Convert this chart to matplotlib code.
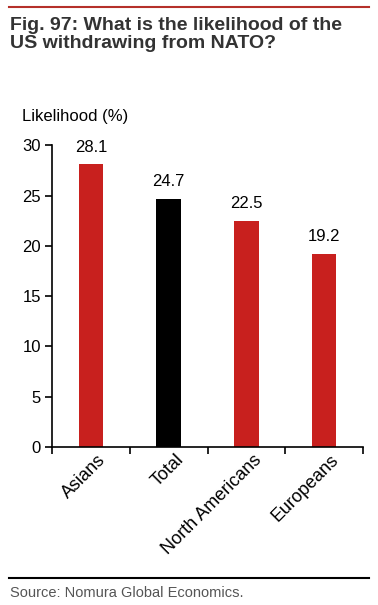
import matplotlib.pyplot as plt
import numpy as np

plt.rcParams['font.family'] = ['Liberation Sans', 'DejaVu Sans']

categories = ['Asians', 'Total', 'North Americans', 'Europeans']
values = [28.1, 24.7, 22.5, 19.2]
colors = ['#c8201e', '#000000', '#c8201e', '#c8201e']

fig = plt.figure(figsize=(3.78, 6.05), dpi=100)
ax = fig.add_axes([0.138, 0.261, 0.822, 0.499])

x = np.arange(len(categories))
bars = ax.bar(x, values, width=0.32, color=colors)
ax.bar_label(bars, labels=[f'{v:.1f}' for v in values], padding=7, fontsize=12)

ax.set_xlim(-0.5, len(categories) - 0.5)
ax.set_ylim(0, 30)
ax.set_yticks(range(0, 31, 5))
ax.tick_params(axis='y', direction='out', length=5, width=1.2, labelsize=12, pad=3)

ax.set_xticks(x + 0.08)
ax.set_xticklabels(categories, rotation=45, ha='right', va='top',
                   rotation_mode='anchor', fontsize=13)
ax.tick_params(axis='x', which='major', length=0, pad=3)
ax.set_xticks(np.arange(-0.5, len(categories)), minor=True)
ax.tick_params(axis='x', which='minor', direction='out', length=5, width=1.2)

for s in ['top', 'right']:
    ax.spines[s].set_visible(False)
ax.spines['left'].set_linewidth(1.2)
ax.spines['bottom'].set_linewidth(1.2)

fig.text(0.058, 0.80, 'Likelihood (%)', fontsize=12)

# header / footer
fig.add_artist(plt.Line2D([0.024, 0.976], [0.988, 0.988], color='#b5302a', lw=1.5))
fig.text(0.026, 0.972, 'Fig. 97: What is the likelihood of the\nUS withdrawing from NATO?',
         fontsize=14, fontweight='bold', color='#333333', va='top', linespacing=1.05)
fig.add_artist(plt.Line2D([0.024, 0.976], [0.045, 0.045], color='#000000', lw=1.5))
fig.text(0.026, 0.013, 'Source: Nomura Global Economics.', fontsize=10.5, color='#555555')

fig.savefig('out.png', dpi=100)
